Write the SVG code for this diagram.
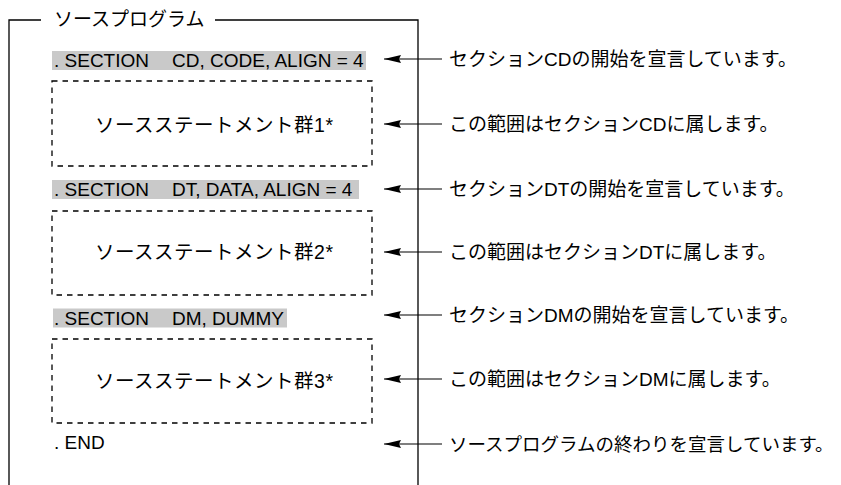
<svg xmlns="http://www.w3.org/2000/svg" width="841" height="485" viewBox="0 0 841 485">
  <style>
    .lat { font-family: "Liberation Sans", Arial, sans-serif; font-size: 19px; fill: #000; }
    .jp { font-family: "Liberation Sans", "Noto Sans CJK JP", sans-serif; font-size: 19px; fill: #000; }
    .jpl { font-family: "Liberation Sans", "Noto Sans CJK JP", sans-serif; font-size: 19.5px; fill: #000; }
    .frame { fill: none; stroke: #000; stroke-width: 1.3; }
    .hl { fill: #c9c9c9; stroke: none; }
    .dash { fill: none; stroke: #000; stroke-width: 1.3; stroke-dasharray: 5.5 5; }
    .conn { stroke: #000; stroke-width: 1.2; fill: none; }
    .head { fill: #000; stroke: none; }
  </style>
  <defs>
    <marker id="ah" viewBox="0 0 17 8" refX="17" refY="4" markerWidth="17" markerHeight="8" markerUnits="userSpaceOnUse" orient="auto">
      <path d="M0,0 L17,4 L0,8 L2,4 Z" class="head"/>
    </marker>
  </defs>

  <g id="frame">
    <path class="frame" d="M9,485 V20 H41 M215,20 H418 V485"/>
    <text class="jp" x="54" y="25.5">ソースプログラム</text>
  </g>

  <g id="section1">
    <rect class="hl" x="52" y="51" width="314" height="19"/>
    <text class="lat" x="54" y="67">. SECTION</text>
    <text class="lat" x="172" y="67">CD, CODE, ALIGN = 4</text>
  </g>
  <g id="stmt1">
    <rect class="dash" x="52" y="81" width="320" height="85"/>
    <text class="jpl" x="95" y="132" textLength="238" lengthAdjust="spacing">ソースステートメント群1*</text>
  </g>

  <g id="section2">
    <rect class="hl" x="52" y="180" width="307" height="19"/>
    <text class="lat" x="54" y="196">. SECTION</text>
    <text class="lat" x="172" y="196">DT, DATA, ALIGN = 4</text>
  </g>
  <g id="stmt2">
    <rect class="dash" x="52" y="211" width="320" height="84"/>
    <text class="jpl" x="95" y="259" textLength="238" lengthAdjust="spacing">ソースステートメント群2*</text>
  </g>

  <g id="section3">
    <rect class="hl" x="53" y="308.5" width="234" height="19"/>
    <text class="lat" x="54" y="324.5">. SECTION</text>
    <text class="lat" x="172" y="324.5">DM, DUMMY</text>
  </g>
  <g id="stmt3">
    <rect class="dash" x="52" y="339" width="320" height="84"/>
    <text class="jpl" x="95" y="388" textLength="238" lengthAdjust="spacing">ソースステートメント群3*</text>
  </g>

  <g id="end">
    <text class="lat" x="54" y="449">. END</text>
  </g>

  <g id="note1"><text class="jp" x="449" y="65.5">セクションCDの開始を宣言しています。</text></g>
  <g id="note2"><text class="jp" x="449" y="130.5">この範囲はセクションCDに属します。</text></g>
  <g id="note3"><text class="jp" x="449" y="195.5">セクションDTの開始を宣言しています。</text></g>
  <g id="note4"><text class="jp" x="449" y="258.5">この範囲はセクションDTに属します。</text></g>
  <g id="note5"><text class="jp" x="449" y="321.5">セクションDMの開始を宣言しています。</text></g>
  <g id="note6"><text class="jp" x="449" y="385.5">この範囲はセクションDMに属します。</text></g>
  <g id="note7"><text class="jp" x="449" y="450.5" style="font-size:18.5px">ソースプログラムの終わりを宣言しています。</text></g>

  <g id="connectors">
    <path class="conn" d="M442,59 H384" marker-end="url(#ah)"/>
    <path class="conn" d="M442,124 H384" marker-end="url(#ah)"/>
    <path class="conn" d="M442,189 H384" marker-end="url(#ah)"/>
    <path class="conn" d="M442,252 H384" marker-end="url(#ah)"/>
    <path class="conn" d="M442,315 H384" marker-end="url(#ah)"/>
    <path class="conn" d="M442,379 H384" marker-end="url(#ah)"/>
    <path class="conn" d="M442,444 H384" marker-end="url(#ah)"/>
  </g>
</svg>
